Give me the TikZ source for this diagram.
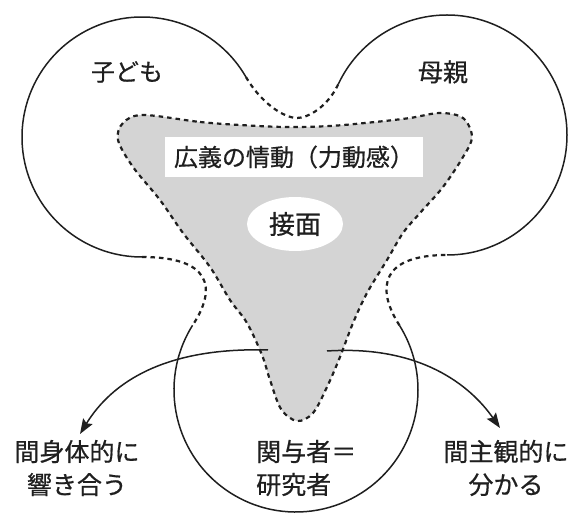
\documentclass[tikz,border=0pt]{standalone}
\usepackage{fontspec}
\newfontfamily\jp[FakeBold=0.6]{Noto Sans CJK JP}
\usetikzlibrary{shapes.geometric,arrows.meta}
\begin{document}
\begin{tikzpicture}[x=1pt,y=-1pt,
  solidline/.style={line width=1.5pt, black!88},
  dashline/.style={line width=2.2pt, black!88, dash pattern=on 4.5pt off 4pt},
  lbl/.style={font=\jp\fontsize{25}{33}\selectfont, text=black!88, inner sep=0pt},
  arr/.style={line width=1.5pt, black!88, -{Stealth[length=15pt,width=11pt,inset=2.5pt]}}
]
\useasboundingbox (0,0) rectangle (571,518);
\coordinate (L) at (142,137);
\coordinate (R) at (447,135);
\coordinate (B) at (296,390);

% shaded region (broad affect)
\draw[dashline, fill=black!17] plot[smooth cycle, tension=0.55] coordinates {
 (143,115) (200,122) (240,125) (285,127) (330,126) (375,122) (410,118) (440,113)
 (463,118) (472,137) (463,157) (443,187) (420,213) (403,233) (387,260) (367,293)
 (353,323) (340,357) (327,387) (313,413) (297,421) (281,409) (270,380) (262,355)
 (247,323) (230,300) (210,267) (183,233) (160,200) (133,167) (118,140) (123,123)};

% outer three-lobed boundary
\draw[solidline] (245.92,77) arc[start angle=-30, end angle=-270, radius=120];
\draw[solidline] (192.54,325.35) arc[start angle=-148, end angle=-392, radius=122];
\draw[solidline] (447,255) arc[start angle=90, end angle=-155, radius=120];
\draw[dashline] (142,257) .. controls (210,257) and (218,287) .. (192.54,325.35);
\draw[dashline] (399.46,325.35) .. controls (375,287) and (382,255) .. (447,255);
\draw[dashline] (338.24,84.29) .. controls (327.6,106.9) and (308,118) .. (297,118)
  .. controls (284,118) and (261,103) .. (245.92,77);

% labels
\node[lbl, font=\jp\fontsize{24}{30}\selectfont] (child) at (127,72) {子ども};
\node[lbl] (mother) at (443,72) {母親};
\node[lbl, font=\jp\fontsize{24}{30}\selectfont, fill=white, minimum width=258pt, minimum height=40pt] (emo) at (294,157) {広義の情動（力動感）};
\node[lbl, ellipse, fill=white, minimum width=96pt, minimum height=54pt, font=\jp\fontsize{26}{30}\selectfont] (iface) at (295,224) {接面};
\node[lbl, align=center] (body) at (77,468) {間身体的に\\響き合う};
\node[lbl, align=left, anchor=west] (res) at (256,468) {関与者＝\\研究者};
\node[lbl, align=center] (subj) at (506,468) {間主観的に\\分かる};

% arrows
\coordinate (a1s) at (268,350);
\coordinate (a1e) at (80,434);
\coordinate (a2s) at (327,351);
\coordinate (a2e) at (500,428);
\draw[arr] (a1s) .. controls (165,347) and (112,382) .. (a1e);
\draw[arr] (a2s) .. controls (420,345) and (470,385) .. (a2e);
\end{tikzpicture}
\end{document}
